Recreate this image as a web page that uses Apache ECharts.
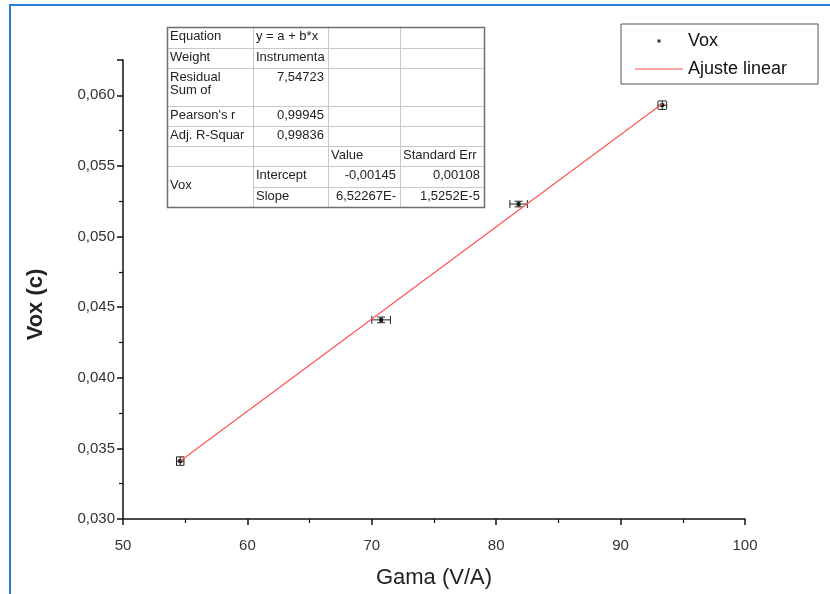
<!DOCTYPE html>
<html><head><meta charset="utf-8">
<script src="https://cdn.jsdelivr.net/npm/echarts@6/dist/echarts.min.js"></script>
<style>html,body{margin:0;padding:0;background:#fff}#c{width:830px;height:594px}</style>
</head><body><div id="c"></div>
<script>
// ---- data ----
const gama    = [54.6, 70.75, 81.8, 93.35];      // Gama (V/A)
const vox     = [0.0341, 0.0441, 0.0523, 0.0593]; // Vox (c)
const gamaErr = [0.3, 0.75, 0.7, 0.35];
const voxErr  = [0.0003, 0.0002, 0.0002, 0.0003];
const fitX    = [54.6, 93.35];
const fitY    = [0.0341, 0.0594];
const xTicks  = [50, 60, 70, 80, 90, 100];
const yTicks  = ['0,030','0,035','0,040','0,045','0,050','0,055','0,060'];
// fit summary table (text)
const tableRows = [
  ['Equation', 'y = a + b*x', '', ''],
  ['Weight', 'Instrumenta', '', ''],
  ['Residual\nSum of', '7,54723', '', ''],
  ["Pearson's r", '0,99945', '', ''],
  ['Adj. R-Squar', '0,99836', '', ''],
  ['', '', 'Value', 'Standard Err'],
  ['Vox', 'Intercept', '-0,00145', '0,00108'],
  ['', 'Slope', '6,52267E-', '1,5252E-5']
];

// ---- layout ----
const colX = [167, 253, 328, 400, 484];
const rowY = [27, 48, 68, 106, 126, 146, 166, 187, 207];
const rightAlign = {'7,54723':1,'0,99945':1,'0,99836':1,'-0,00145':1,'0,00108':1,'6,52267E-':1,'1,5252E-5':1};

const g = [];
g.push({type:'rect', shape:{x:10, y:5, width:900, height:700}, style:{fill:'none', stroke:'#2b7fd6', lineWidth:2}, z:0});
g.push({type:'rect', shape:{x:colX[0], y:rowY[0], width:colX[4]-colX[0], height:rowY[8]-rowY[0]}, style:{fill:'#fff', stroke:'none'}, z:10});
for (let r = 1; r < rowY.length - 1; r++) {
  const x0 = (r === 7) ? colX[1] : colX[0];
  g.push({type:'line', shape:{x1:x0, y1:rowY[r]+0.5, x2:colX[4], y2:rowY[r]+0.5}, style:{stroke:'#c8c8c8', lineWidth:1}, z:11});
}
for (let c = 1; c < colX.length - 1; c++) {
  g.push({type:'line', shape:{x1:colX[c]+0.5, y1:rowY[0], x2:colX[c]+0.5, y2:rowY[8]}, style:{stroke:'#c8c8c8', lineWidth:1}, z:11});
}
g.push({type:'rect', shape:{x:colX[0]+0.5, y:rowY[0]+0.5, width:colX[4]-colX[0], height:rowY[8]-rowY[0]}, style:{fill:'none', stroke:'#6e6e6e', lineWidth:1.5}, z:12});
tableRows.forEach((row, ri) => {
  row.forEach((txt, ci) => {
    if (!txt) return;
    let top = rowY[ri] + 3;
    if (ri === 6 && ci === 0) { top = rowY[6] + 13; }
    const right = !!rightAlign[txt];
    g.push({type:'text', z:13,
      x: right ? colX[ci+1] - 4 : colX[ci] + 3,
      y: top,
      style:{text: txt, fill:'#222', font:'13px "Liberation Sans", Arial, sans-serif',
        align: right ? 'right' : 'left', verticalAlign:'top', lineHeight:13}
    });
  });
});

const errData = gama.map((x, i) => [x, vox[i], gamaErr[i], voxErr[i]]);
const ptData = gama.map((x, i) => [x, vox[i]]);
const fitData = fitX.map((x, i) => [x, fitY[i]]);

const chart = echarts.init(document.getElementById('c'), null, {renderer:'canvas'});
chart.setOption({
  animation:false,
  backgroundColor:'#fff',
  textStyle:{fontFamily:'"Liberation Sans", Arial, sans-serif'},
  grid:{left:123, right:85, top:60, bottom:70, containLabel:false},
  legend:{
    orient:'vertical', left:621, top:24,
    padding:[8, 31, 6, 14], itemGap:10,
    itemWidth:48, itemHeight:14,
    borderColor:'#555', borderWidth:1, backgroundColor:'#fff',
    textStyle:{fontSize:18, color:'#111'},
    data:[
      {name:'Vox', icon:'path://M0,0M48,14M22.5,5.5h3v3h-3z'},
      {name:'Ajuste linear', icon:'path://M0,0M48,14M0,6.4h48v1.2h-48z'}
    ]
  },
  xAxis:{
    type:'value', min:50, max:100, interval:10,
    name:'Gama (V/A)', nameLocation:'middle', nameGap:48,
    nameTextStyle:{fontSize:22, color:'#222'},
    axisLine:{show:true, onZero:false, lineStyle:{color:'#111', width:1.5}},
    axisTick:{show:true, length:6, lineStyle:{color:'#111', width:1.5}},
    minorTick:{show:true, splitNumber:2, length:4, lineStyle:{color:'#111', width:1.2}},
    axisLabel:{fontSize:15, color:'#333', margin:19,
      formatter: v => { const i = xTicks.indexOf(Math.round(v)); return i >= 0 ? String(xTicks[i]) : ''; }},
    splitLine:{show:false}
  },
  yAxis:{
    type:'value', min:0.030, max:0.0625, interval:0.005,
    name:'Vox (c)', nameLocation:'middle', nameGap:76, nameRotate:90,
    nameTextStyle:{fontSize:22, fontWeight:'bold', color:'#222', padding:[0, 30, 0, 0]},
    axisLine:{show:true, onZero:false, lineStyle:{color:'#111', width:1.5}},
    axisTick:{show:true, length:6, lineStyle:{color:'#111', width:1.5}},
    minorTick:{show:true, splitNumber:2, length:4, lineStyle:{color:'#111', width:1.2}},
    axisLabel:{fontSize:15, color:'#333', margin:8, showMaxLabel:false,
      formatter: v => { const i = Math.round((v - 0.030) / 0.005); const ok = Math.abs(v - (0.030 + i*0.005)) < 1e-6; return ok && yTicks[i] ? yTicks[i] : ''; }},
    splitLine:{show:false}
  },
  series:[
    {
      name:'errbars', type:'custom', data:errData, z:3,
      renderItem:(params, api) => {
        const x = api.value(0), y = api.value(1), xe = api.value(2), ye = api.value(3);
        const L = api.coord([x - xe, y]), R = api.coord([x + xe, y]);
        const T = api.coord([x, y + ye]), B = api.coord([x, y - ye]);
        const cap = 4;
        const st = {stroke:'#222', lineWidth:1, fill:'none'};
        return {type:'group', children:[
          {type:'line', shape:{x1:L[0], y1:L[1], x2:R[0], y2:R[1]}, style:st},
          {type:'line', shape:{x1:L[0], y1:L[1]-cap, x2:L[0], y2:L[1]+cap}, style:st},
          {type:'line', shape:{x1:R[0], y1:R[1]-cap, x2:R[0], y2:R[1]+cap}, style:st},
          {type:'line', shape:{x1:T[0], y1:T[1], x2:B[0], y2:B[1]}, style:st},
          {type:'line', shape:{x1:T[0]-cap, y1:T[1], x2:T[0]+cap, y2:T[1]}, style:st},
          {type:'line', shape:{x1:B[0]-cap, y1:B[1], x2:B[0]+cap, y2:B[1]}, style:st}
        ]};
      }
    },
    {
      name:'Vox', type:'scatter', data:ptData, symbol:'rect', symbolSize:4, z:4,
      itemStyle:{color:'#000'}
    },
    {
      name:'Ajuste linear', type:'line', data:fitData, symbol:'none', z:5,
      lineStyle:{color:'#ff5555', width:1.2}, itemStyle:{color:'#ff5555'}
    }
  ],
  graphic:g
});
</script>
</body></html>
